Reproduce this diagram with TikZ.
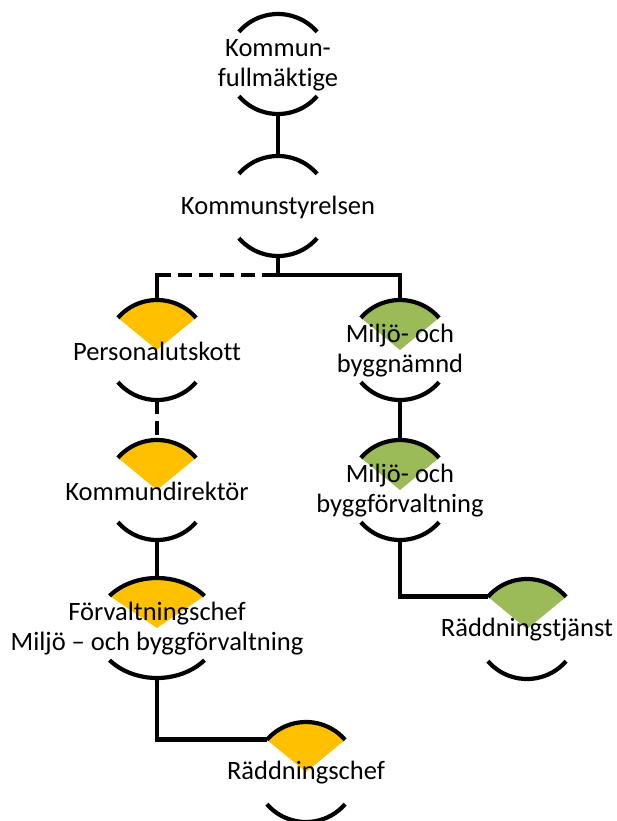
\documentclass[tikz,border=0pt]{standalone}
\usepackage{fontspec}
\setmainfont[Ligatures=NoCommon]{Carlito}
\usetikzlibrary{shapes.geometric,calc}
\definecolor{orgOrange}{HTML}{FFC000}
\definecolor{orgGreen}{HTML}{9BBB59}
\tikzset{
 shapebox/.style={ellipse,inner sep=0pt,outer sep=0pt,minimum height=100pt},
 capline/.style={line width=4.2pt},
 conn/.style={line width=4.2pt},
 dashconn/.style={line width=4.2pt,dash pattern=on 13.5pt off 7.5pt},
 lbl/.style={font=\fontsize{26.5}{30}\selectfont,align=center,inner sep=0pt},
}
\newcommand\capnode[6]{%
 \node[shapebox,minimum width=#4*2pt] (#1) at (#2,#3) {};
 \path[fill=#5] (#1.center) -- ($(#1.center)+(140:#4pt and 50pt)$) arc[start angle=140,end angle=40,x radius=#4pt,y radius=50pt] -- cycle;
 \draw[capline] ($(#1.center)+(140:#4pt and 50pt)$) arc[start angle=140,end angle=40,x radius=#4pt,y radius=50pt];
 \draw[capline] ($(#1.center)+(220:#4pt and 50pt)$) arc[start angle=220,end angle=320,x radius=#4pt,y radius=50pt];
 \node[lbl] (#1-t) at ($(#1.center)+(0,-1)$) {#6};
}
\begin{document}
\begin{tikzpicture}[x=1pt,y=1pt]
\useasboundingbox (0,0) rectangle (616,-821);
\capnode{kf}{278}{-64}{51}{none}{Kommun-\\fullmäktige}
\capnode{ks}{278}{-206}{51}{none}{Kommunstyrelsen}
\capnode{pu}{157}{-350}{51}{orgOrange}{Personalutskott}
\capnode{mbn}{400}{-350}{51}{orgGreen}{Miljö- och\\byggnämnd}
\capnode{kd}{157}{-490}{51}{orgOrange}{Kommundirektör}
\capnode{mbf}{400}{-490}{51}{orgGreen}{Miljö- och\\byggförvaltning}
\capnode{fc}{157}{-628}{62}{orgOrange}{Förvaltningschef\\Miljö – och byggförvaltning}
\capnode{rt}{527}{-629}{51}{orgGreen}{Räddningstjänst}
\capnode{rc}{306}{-772}{51}{orgOrange}{Räddningschef}
\draw[conn] (kf.south) -- (ks.north);
\coordinate (bus) at ($(ks.south)+(0,-19)$);
\coordinate (puc) at (pu.north |- bus);
\draw[conn] (ks.south) -- (bus) -| (mbn.north);
\draw[conn] (pu.north) -- ($(puc)+(0,2.1)$);
\draw[dashconn] (puc) -- (bus);
\draw[dashconn] (pu.south) -- (kd.north);
\draw[conn] (mbn.south) -- (mbf.north);
\draw[conn] (kd.south) -- (fc.north);
\draw[conn] (mbf.south) |- (rt.140);
\draw[conn] (fc.south) |- (rc.140);
\end{tikzpicture}
\end{document}
